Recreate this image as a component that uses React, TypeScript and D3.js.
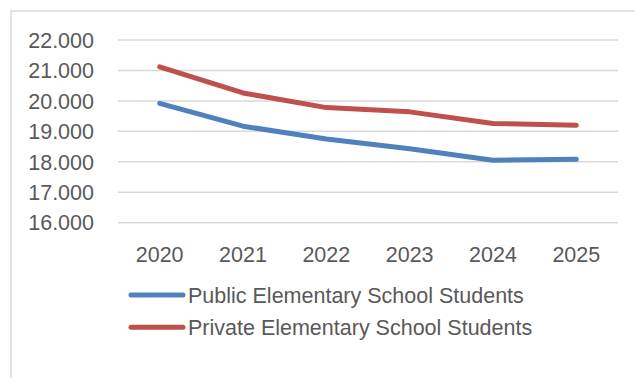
import React from "react";
import * as d3 from "d3";

const years = ["2020", "2021", "2022", "2023", "2024", "2025"];
const publicStudents = [19920, 19170, 18750, 18430, 18050, 18080];
const privateStudents = [21120, 20260, 19780, 19640, 19260, 19200];
const yTicks = [16000, 17000, 18000, 19000, 20000, 21000, 22000];
const seriesNames = ["Public Elementary School Students", "Private Elementary School Students"];
const seriesColors = ["#4F81BD", "#C0504D"];

const W = 635;
const H = 378;
const FONT = "'Liberation Sans', Arial, sans-serif";
const TEXT = "#595959";

const locale = d3.formatLocale({ decimal: ",", thousands: ".", grouping: [3], currency: ["", ""] });
const fmt = locale.format(",");

export default function App() {
  const x = d3.scaleBand<string>().domain(years).range([118, 618]);
  const y = d3.scaleLinear().domain([16000, 22000]).range([222.7, 40]);
  const cx = (yr: string) => (x(yr) as number) + x.bandwidth() / 2;
  const line = d3
    .line<number>()
    .x((_, i) => cx(years[i]))
    .y((v) => y(v));
  const series = [publicStudents, privateStudents];

  return (
    <svg
      width={W}
      height={H}
      style={{ position: "absolute", left: 0, top: 0, display: "block", background: "#fff" }}
    >
      <rect x={0} y={0} width={W} height={H} fill="#fff" />
      {/* frame */}
      <path d={`M11,${H + 5} V11 H${W + 5}`} fill="none" stroke="#D9D9D9" strokeWidth={1.5} />
      {/* gridlines */}
      {yTicks.map((t) => (
        <line key={t} x1={118} x2={618} y1={y(t)} y2={y(t)} stroke="#D9D9D9" strokeWidth={1.5} />
      ))}
      {/* y labels */}
      {yTicks.map((t) => (
        <text
          key={"l" + t}
          x={94}
          y={y(t)}
          dy="0.36em"
          textAnchor="end"
          fontFamily={FONT}
          fontSize={21.5}
          fill={TEXT}
        >
          {fmt(t)}
        </text>
      ))}
      {/* x labels */}
      {years.map((yr) => (
        <text
          key={yr}
          x={cx(yr)}
          y={261.5}
          textAnchor="middle"
          fontFamily={FONT}
          fontSize={21.5}
          fill={TEXT}
        >
          {yr}
        </text>
      ))}
      {/* lines */}
      {series.map((s, i) => (
        <path
          key={i}
          d={line(s) || ""}
          fill="none"
          stroke={seriesColors[i]}
          strokeWidth={5}
          strokeLinecap="round"
          strokeLinejoin="round"
        />
      ))}
      {/* legend */}
      {seriesNames.map((n, i) => (
        <g key={n} transform={`translate(0,${295 + i * 32.3})`}>
          <line x1={131} x2={183} y1={0} y2={0} stroke={seriesColors[i]} strokeWidth={5} strokeLinecap="round" />
          <text x={188} y={0} dy="0.35em" fontFamily={FONT} fontSize={21.5} fill={TEXT}>
            {n}
          </text>
        </g>
      ))}
    </svg>
  );
}
